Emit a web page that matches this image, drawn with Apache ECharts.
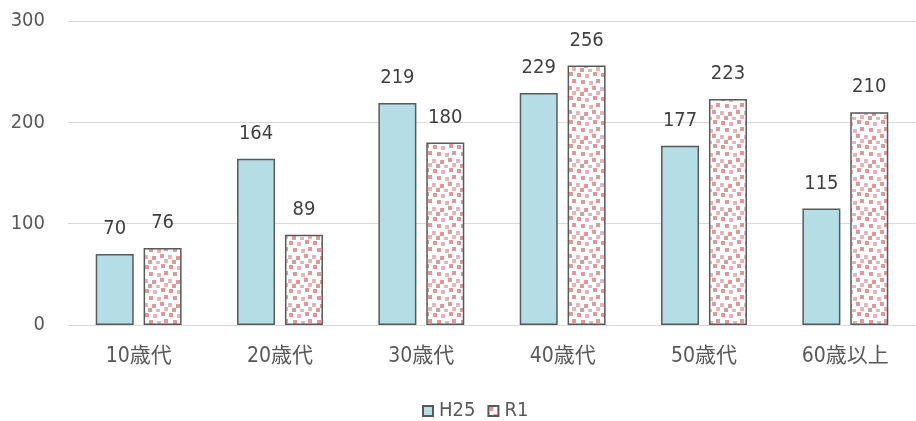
<!DOCTYPE html>
<html>
<head>
<meta charset="utf-8">
<script src="https://cdn.jsdelivr.net/npm/echarts@6/dist/echarts.min.js"></script>
<style>
  html, body { margin: 0; padding: 0; background: #fff; }
  #chart { width: 916px; height: 421px; }
</style>
</head>
<body>
<div id="chart"></div>
<script>
const categories = ['10歳代', '20歳代', '30歳代', '40歳代', '50歳代', '60歳以上'];
const seriesNames = ['H25', 'R1'];
const h25Values = [70, 164, 219, 229, 177, 115];
const r1Values = [76, 89, 180, 256, 223, 210];
const yTicks = [0, 100, 200, 300];

// Scattered pink squares on white, tiled as the R1 fill
function makeDotPattern() {
  const c = document.createElement('canvas');
  c.width = 24; c.height = 24;
  const ctx = c.getContext('2d');
  ctx.fillStyle = '#ffffff';
  ctx.fillRect(0, 0, 24, 24);
  const squares = [
    [1, 1, '#e29898'], [9, 2, '#ebb3b3'], [17, 0, '#e29898'],
    [5, 8, '#e29898'], [13, 9, '#ebb3b3'], [20, 7, '#e29898'],
    [0, 15, '#ebb3b3'], [8, 16, '#e29898'], [16, 14, '#e29898'],
    [4, 20, '#e29898'], [12, 21, '#ebb3b3'], [20, 19, '#ebb3b3']
  ];
  squares.forEach(([x, y, col]) => {
    ctx.fillStyle = col;
    ctx.fillRect(x, y, 4, 4);
  });
  return c;
}
const dotPattern = { image: makeDotPattern(), repeat: 'repeat' };

const font = '"DejaVu Sans Condensed", "Noto Sans CJK JP", sans-serif';
const textGray = '#595959';
const chart = echarts.init(document.getElementById('chart'), null, { renderer: 'canvas' });

chart.setOption({
  animation: false,
  textStyle: { fontFamily: font },
  grid: { left: 68, right: 0, top: 21, bottom: 96, containLabel: false },
  legend: {
    top: 396,
    left: 417,
    icon: 'rect',
    itemWidth: 10,
    itemHeight: 10,
    itemGap: 12,
    textStyle: { fontFamily: font, fontSize: 20, color: textGray, padding: [0, 0, 0, 1] },
    data: seriesNames
  },
  xAxis: {
    type: 'category',
    data: categories,
    axisTick: { show: false },
    axisLine: { lineStyle: { color: '#d9d9d9', width: 1 } },
    axisLabel: { fontFamily: font, fontSize: 21, color: textGray, margin: 21 }
  },
  yAxis: {
    type: 'value',
    min: yTicks[0],
    max: yTicks[yTicks.length - 1],
    interval: 100,
    axisLine: { show: false },
    axisTick: { show: false },
    splitLine: { lineStyle: { color: '#d9d9d9', width: 1 } },
    axisLabel: { fontFamily: font, fontSize: 20, color: textGray, margin: 23 }
  },
  series: [
    {
      name: seriesNames[0],
      type: 'bar',
      data: h25Values,
      barWidth: 38,
      barGap: '26%',
      itemStyle: { color: '#b4dde6', borderColor: '#595959', borderWidth: 1.5 },
      label: { show: true, position: 'top', distance: 15, fontFamily: font, fontSize: 20, color: '#404040' }
    },
    {
      name: seriesNames[1],
      type: 'bar',
      data: r1Values,
      barWidth: 38,
      itemStyle: { color: dotPattern, borderColor: '#595959', borderWidth: 1.5 },
      label: { show: true, position: 'top', distance: 15, fontFamily: font, fontSize: 20, color: '#404040' }
    }
  ]
});
</script>
</body>
</html>
